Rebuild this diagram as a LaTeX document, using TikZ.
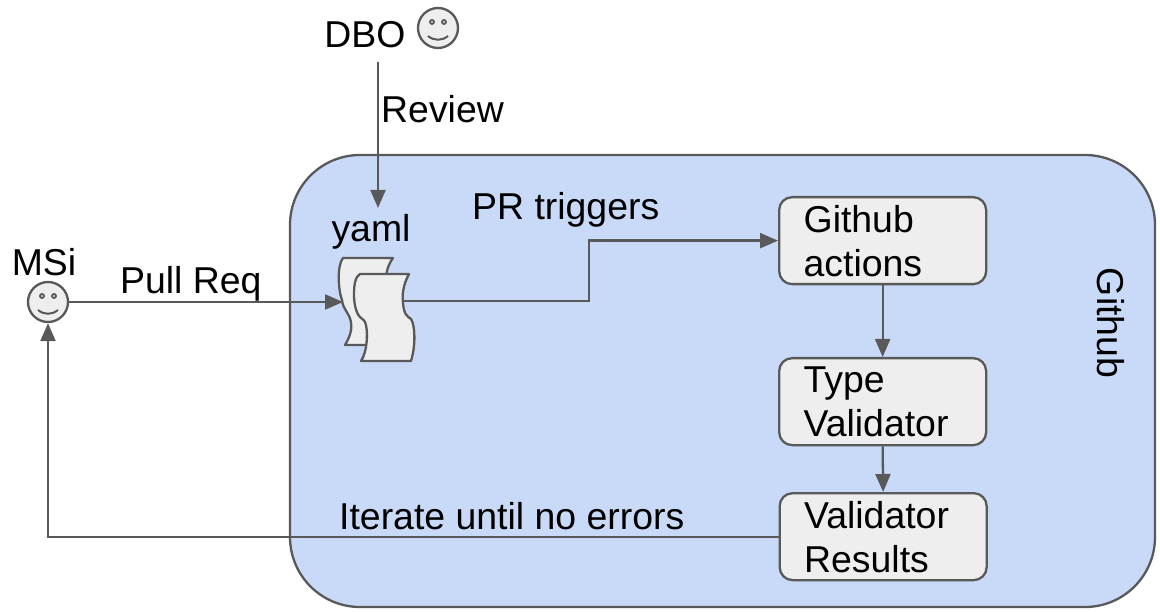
\documentclass[tikz,border=0pt]{standalone}
\usepackage{fontspec}
\setmainfont{Liberation Sans}
\usetikzlibrary{arrows.meta,positioning}
\definecolor{edgegray}{HTML}{595959}
\definecolor{boxfill}{HTML}{EEEEEE}
\definecolor{panel}{HTML}{C9DAF8}
\tikzset{
  lbl/.style={font=\fontsize{37.4}{44}\selectfont,inner sep=0pt,text=black},
  stepbox/.style={draw=edgegray,fill=boxfill,line width=2.3pt,rounded corners=13pt,minimum width=207pt,
    minimum height=87pt,text width=158pt,inner xsep=0pt,inner ysep=0pt,align=left,
    font=\fontsize{37.4}{44}\selectfont,anchor=north west},
  smiley/.style={circle,draw=edgegray,fill=boxfill,line width=2.3pt,minimum size=40pt,inner sep=0pt},
  conn/.style={draw=edgegray,line width=2.3pt,-{Triangle[length=18pt,width=15pt,fill=edgegray]}},
  docsheet/.style={draw=edgegray,fill=boxfill,line width=2.3pt,line join=round},
}
\newcommand{\smileface}[1]{%
  \draw[edgegray,line width=1.8pt] ([shift={(-6,-6)}]#1.center) circle (2pt);
  \draw[edgegray,line width=1.8pt] ([shift={(6,-6)}]#1.center) circle (2pt);
  \draw[edgegray,line width=2pt] ([shift={(-10,8)}]#1.center) .. controls ([shift={(-4,13)}]#1.center) and ([shift={(4,13)}]#1.center) .. ([shift={(10,8)}]#1.center);
}
\begin{document}
\begin{tikzpicture}[x=1pt,y=-1pt]
\useasboundingbox (0,0) rectangle (1160,612);
\draw[draw=edgegray,fill=panel,line width=2.3pt,rounded corners=70pt] (290,155) rectangle (1155,607);

\node[stepbox] (actions) at (778,196) {Github\\actions};
\node[stepbox] (validator) at (778,357) {Type\\Validator};
\node[stepbox] (results) at (778.5,492) {Validator\\Results};

\node[smiley] (msi) at (48,302) {};
\smileface{msi}
\node[smiley] (dbo) at (438,28) {};
\smileface{dbo}

% yaml sheets
\path[docsheet] (343,258) -- (393,258) .. controls (388,265) and (386,272) .. (386,280)
  .. controls (386,300) and (398,320) .. (398,345)
  -- (345,345) .. controls (351,335) and (352,328) .. (351,322)
  .. controls (349,312) and (343,310) .. (342,300) .. controls (338,290) and (337,265) .. (343,258) -- cycle;
\path[docsheet] (360,274) -- (409,274) .. controls (403,285) and (402,295) .. (403,303)
  .. controls (404,315) and (407,316) .. (411,319) .. controls (415,325) and (416,345) .. (411,361)
  -- (361,361) .. controls (367,352) and (368,335) .. (366,325)
  .. controls (365,319) and (362,320) .. (360,317) .. controls (355,312) and (354,300) .. (354,295)
  .. controls (354,285) and (355,277) .. (360,274) -- cycle;
\coordinate (yamlIn) at (343,302);
\coordinate (yamlOut) at (404,301);
\coordinate (yamlTop) at (378,208);
\coordinate (dboOut) at (378,62);
\coordinate (prBend) at (589,301);

\node[lbl,anchor=base] (dbotxt) at (365,48) {DBO};
\node[lbl,anchor=base] (msitxt) at (44,276) {MSi};
\node[lbl,anchor=base west] (reviewtxt) at (381,123) {Review};
\node[lbl,anchor=base] (yamltxt) at (371,242) {yaml};
\node[lbl,anchor=base west] (prtxt) at (472,220) {PR triggers};
\node[lbl,anchor=base west] (pulltxt) at (120,294) {Pull Req};
\node[lbl,anchor=base west] (itertxt) at (339,529) {Iterate until no errors};
\node[lbl,rotate=-90] (githubtxt) at (1111,323) {Github};

\draw[conn] (dboOut) -- (yamlTop);
\draw[conn] (msi.east) -- (msi.east -| yamlIn);
\draw[conn] (yamlOut) -- (prBend) |- (actions.west);
\draw[conn] (actions.south) -- (validator.north);
\draw[conn] (validator.south) -- (results.north);
\draw[conn] (results.west) -| (msi.south);
\end{tikzpicture}
\end{document}
